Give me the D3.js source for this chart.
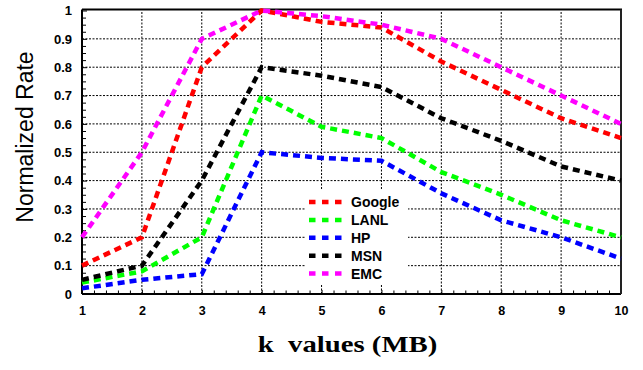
<!DOCTYPE html>
<html>
<head>
<meta charset="utf-8">
<script src="https://cdn.jsdelivr.net/npm/d3@7"></script>
<style>
  html, body { margin: 0; padding: 0; background: #fff; }
  svg { display: block; }
</style>
</head>
<body>
<div id="chart"></div>
<script>
const kValues = [1, 2, 3, 4, 5, 6, 7, 8, 9, 10];
const google = [0.1, 0.2, 0.8, 1.0, 0.96, 0.94, 0.82, 0.72, 0.62, 0.55];
const lanl   = [0.04, 0.08, 0.2, 0.7, 0.59, 0.55, 0.43, 0.35, 0.26, 0.2];
const hp     = [0.02, 0.05, 0.07, 0.5, 0.48, 0.47, 0.355, 0.26, 0.2, 0.125];
const msn    = [0.05, 0.1, 0.4, 0.8, 0.77, 0.73, 0.62, 0.54, 0.45, 0.4];
const emc    = [0.2, 0.5, 0.9, 1.0, 0.98, 0.95, 0.9, 0.8, 0.7, 0.6];
const seriesNames = ["Google", "LANL", "HP", "MSN", "EMC"];
const seriesColors = ["#ff0000", "#00ff00", "#0000ff", "#000000", "#ff00ff"];
const yTicks = [0, 0.1, 0.2, 0.3, 0.4, 0.5, 0.6, 0.7, 0.8, 0.9, 1];
const xTicks = kValues;
const xLabel = "k  values (MB)";
const yLabel = "Normalized Rate";

const seriesValues = [google, lanl, hp, msn, emc];
const W = 643, H = 370;
const svg = d3.select("#chart").append("svg").attr("width", W).attr("height", H);

const x = d3.scaleLinear().domain([1, 10]).range([82, 621]);
const y = d3.scaleLinear().domain([0, 1]).range([294, 10.5]);

// gridlines
const grid = svg.append("g").attr("stroke", "#000").attr("stroke-width", 1).attr("stroke-dasharray", "2,1.5");
grid.selectAll("line.v").data(xTicks.slice(1, -1)).join("line")
  .attr("x1", d => x(d)).attr("x2", d => x(d)).attr("y1", y(0)).attr("y2", y(1));
grid.selectAll("line.h").data(yTicks.slice(1, -1)).join("line")
  .attr("x1", x(1)).attr("x2", x(10)).attr("y1", d => y(d)).attr("y2", d => y(d));

// minor ticks
const xMinor = d3.range(1, 10.001, 0.2).filter(v => Math.abs(v - Math.round(v)) > 1e-6);
const yMinor = d3.range(0, 1.0001, 0.025).filter(v => Math.abs(v * 10 - Math.round(v * 10)) > 1e-6);
svg.append("g").attr("transform", `translate(0,${y(0)})`)
  .call(d3.axisBottom(x).tickValues(xMinor).tickSize(-3.5).tickFormat(""))
  .call(g => g.select(".domain").remove())
  .call(g => g.selectAll("line").attr("stroke", "#000").attr("stroke-width", 1));
svg.append("g").attr("transform", `translate(${x(1)},0)`)
  .call(d3.axisLeft(y).tickValues(yMinor).tickSize(-4).tickFormat(""))
  .call(g => g.select(".domain").remove())
  .call(g => g.selectAll("line").attr("stroke", "#000").attr("stroke-width", 1));

// major axes
const xAxis = svg.append("g").attr("transform", `translate(0,${y(0)})`)
  .call(d3.axisBottom(x).tickValues(xTicks).tickSizeInner(-4).tickSizeOuter(0).tickPadding(12.5).tickFormat(d3.format("d")));
xAxis.select(".domain").remove();
xAxis.selectAll("line").attr("stroke", "#000").attr("stroke-width", 1);
xAxis.selectAll("text").attr("font-family", "Liberation Sans, Arial, sans-serif").attr("font-weight", "bold").attr("font-size", 12.5).attr("fill", "#000");

const yAxis = svg.append("g").attr("transform", `translate(${x(1)},0)`)
  .call(d3.axisLeft(y).tickValues(yTicks).tickSizeInner(-5).tickSizeOuter(0).tickPadding(10).tickFormat(d => d === 0 ? "0" : d === 1 ? "1" : d3.format(".1f")(d)));
yAxis.select(".domain").remove();
yAxis.selectAll("line").attr("stroke", "#000").attr("stroke-width", 1);
yAxis.selectAll("text").attr("font-family", "Liberation Sans, Arial, sans-serif").attr("font-weight", "bold").attr("font-size", 13).attr("fill", "#000");

// frame
svg.append("line").attr("x1", x(1)).attr("x2", x(10)).attr("y1", y(0)).attr("y2", y(0)).attr("stroke", "#000").attr("stroke-width", 2);
svg.append("line").attr("x1", x(1)).attr("x2", x(1)).attr("y1", y(0)).attr("y2", y(1) - 1).attr("stroke", "#000").attr("stroke-width", 2);
svg.append("line").attr("x1", x(1)).attr("x2", x(10) + 1).attr("y1", y(1) - 1).attr("y2", y(1) - 1).attr("stroke", "#000").attr("stroke-width", 2);
svg.append("line").attr("x1", x(10)).attr("x2", x(10)).attr("y1", y(1) - 1).attr("y2", y(0)).attr("stroke", "#222").attr("stroke-width", 2);

// series lines
const line = d3.line().x((d, i) => x(kValues[i])).y(d => y(d));
seriesValues.forEach((vals, si) => {
  svg.append("path").datum(vals)
    .attr("d", line)
    .attr("fill", "none")
    .attr("stroke", seriesColors[si])
    .attr("stroke-width", 4.5)
    .attr("stroke-dasharray", "7,5");
});

// legend
const legend = svg.append("g");
legend.append("rect").attr("x", 305).attr("y", 190).attr("width", 103).attr("height", 95).attr("fill", "#fff");
seriesNames.forEach((name, i) => {
  const cy = 202 + i * 17.9;
  legend.append("line").attr("x1", 309).attr("x2", 342).attr("y1", cy).attr("y2", cy)
    .attr("stroke", seriesColors[i]).attr("stroke-width", 4.5).attr("stroke-dasharray", "6.5,6.5");
  legend.append("text").attr("x", 351).attr("y", cy + 5)
    .attr("font-family", "Liberation Sans, Arial, sans-serif").attr("font-weight", "bold").attr("font-size", 14)
    .attr("fill", "#000").text(name);
});

// axis titles
svg.append("text")
  .attr("transform", "translate(347.5,352) scale(1.25,1)")
  .attr("text-anchor", "middle")
  .attr("font-family", "Liberation Serif, Times New Roman, serif")
  .attr("font-weight", "bold").attr("font-size", 23).attr("fill", "#000")
  .attr("xml:space", "preserve").style("white-space", "pre")
  .text(xLabel);
svg.append("text")
  .attr("transform", "translate(33,137) rotate(-90)")
  .attr("text-anchor", "middle")
  .attr("font-family", "Liberation Sans, Arial, sans-serif")
  .attr("font-size", 23).attr("fill", "#000")
  .text(yLabel);
</script>
</body>
</html>
